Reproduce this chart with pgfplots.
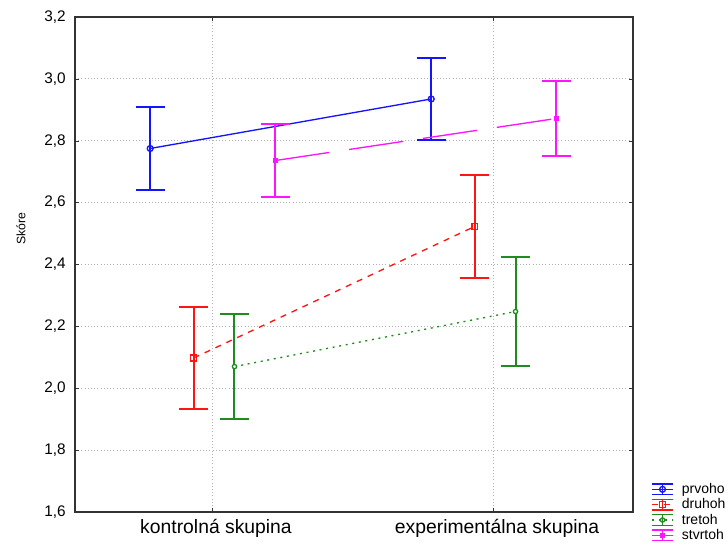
\documentclass[border=0pt]{standalone}
\usepackage{pgfplots}
\pgfplotsset{compat=1.18}
\usepackage{fontspec}
\setmainfont{Liberation Sans}
\definecolor{sblue}{RGB}{20,20,255}
\definecolor{sred}{RGB}{255,20,20}
\definecolor{sgreen}{RGB}{30,140,30}
\definecolor{smag}{RGB}{255,20,255}
\pgfplotsset{myerr/.style={
    error bars/y dir=both, error bars/y explicit,
    error bars/error bar style={solid, line width=1.5pt},
    error bars/error mark options={rotate=90, mark size=11pt, line width=1.5pt, solid}}}
\begin{document}
\begin{tikzpicture}
\useasboundingbox (0pt,0pt) rectangle (546pt,409.5pt);
\clip (0pt,0pt) rectangle (546pt,409.5pt);
\begin{axis}[
  at={(56.25pt,25.5pt)}, anchor=south west,
  scale only axis, width=418.5pt, height=371.25pt,
  xmin=0.5125, xmax=2.498, ymin=1.6, ymax=3.2,
  xtick={1,2}, xticklabels={kontrolná skupina, experimentálna skupina},
  ytick={1.6,1.8,...,3.21},
  yticklabel style={font=\fontsize{11.5}{13}\selectfont, xshift=-3.5pt, /pgf/number format/fixed, /pgf/number format/fixed zerofill, /pgf/number format/precision=1, /pgf/number format/use comma, /pgf/number format/assume math mode=true},
  xticklabel style={font=\fontsize{14.5}{16}\selectfont, yshift=-2pt, xshift=3pt},
  ylabel={Skóre},
  ylabel style={font=\fontsize{9.2}{11}\selectfont, at={(rel axis cs:-0.097,0.572)}, anchor=center},
  grid=major,
  major grid style={gray!60, dotted, line width=0.6pt},
  axis line style={black!80, line width=1pt},
  tick style={black!80},
  major tick length=3pt,
  tick align=inside,
  clip=false,
  legend style={at={(rel axis cs:1.032,0.064)}, anchor=north west, draw=none, fill=none,
    font=\fontsize{10.5}{11}\selectfont, row sep=-1.6pt, inner sep=0pt,
    /tikz/every odd column/.append style={column sep=4pt}},
  legend cell align=left,
  legend image code/.code={%
    \draw[#1, mark repeat=2, mark phase=2] plot coordinates {(0pt,0pt) (8pt,0pt) (16pt,0pt)};
    \draw[#1, solid, line width=1.1pt] (0pt,4pt)--(16pt,4pt) (0pt,-4pt)--(16pt,-4pt) (8pt,-4pt)--(8pt,4pt);
  },
  every axis plot/.append style={line width=1pt},
]
\addplot[sblue, myerr, mark=o, mark size=2.2pt, mark options={solid, fill=white}] coordinates {
  (0.78,2.775) +- (0,0.134)
  (1.78,2.935) +- (0,0.134)
};
\addlegendentry{prvoho}
\addplot[sred, myerr, dash pattern=on 4.5pt off 4.5pt, mark=square, mark size=2.2pt, mark options={solid, fill=white}] coordinates {
  (0.935,2.098) +- (0,0.165)
  (1.935,2.523) +- (0,0.167)
};
\addlegendentry{druhoh}
\addplot[sgreen, myerr, dash pattern=on 1.5pt off 3.5pt, mark=*, mark size=1.6pt, mark options={solid, fill=white}] coordinates {
  (1.08,2.07) +- (0,0.17)
  (2.08,2.248) +- (0,0.176)
};
\addlegendentry{tretoh}
\addplot[smag, myerr, dash pattern=on 41pt off 15pt, mark=square*, mark size=1.5pt, mark options={solid}] coordinates {
  (1.225,2.736) +- (0,0.118)
  (2.225,2.872) +- (0,0.121)
};
\addlegendentry{stvrtoh}
\end{axis}
\end{tikzpicture}
\end{document}
